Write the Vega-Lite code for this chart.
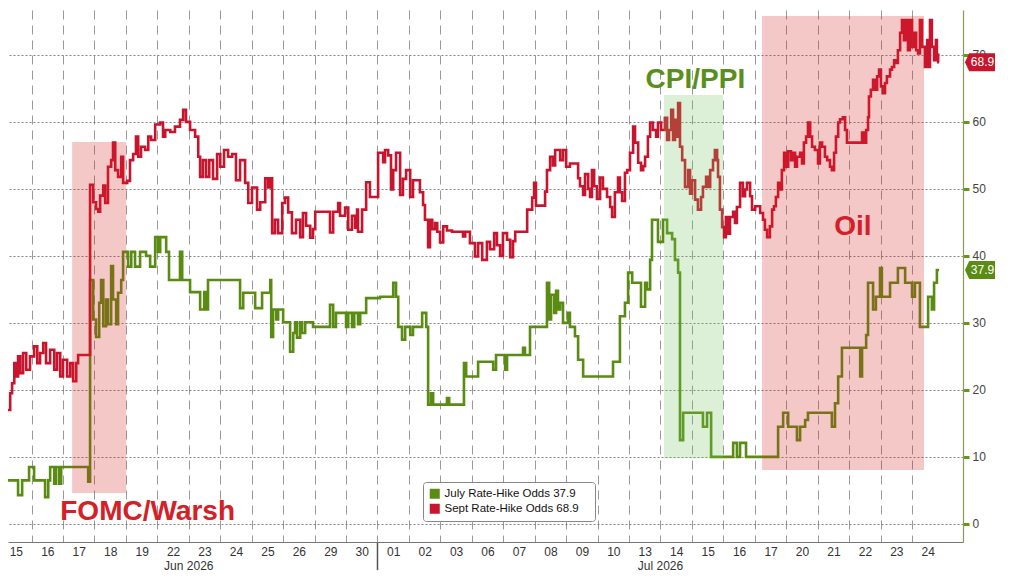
{
  "$schema": "https://vega.github.io/schema/vega-lite/v6.json",
  "width": 955,
  "height": 532,
  "autosize": "none",
  "padding": {"left": 8, "top": 10, "right": 61, "bottom": 39},
  "background": "white",
  "config": {
    "view": {"stroke": null},
    "axisY": {"grid": true, "gridDash": [2, 2], "gridColor": "#666666", "gridOpacity": 0.8,
      "domainColor": "#8a9a5b", "domainWidth": 1.2,
      "tickColor": "#5f9a1c", "tickSize": 6, "tickWidth": 3,
      "labelColor": "#444444", "labelFontSize": 12, "labelFont": "Liberation Sans", "labelPadding": 3}
  },
  "datasets": {
    "odds": [
      {"series":"July","day":0.25,"odds":6.5},{"series":"July","day":0.57,"odds":4.3},{"series":"July","day":0.70,"odds":6.5},{"series":"July","day":0.92,"odds":8.5},{"series":"July","day":1.08,"odds":6.5},{"series":"July","day":1.43,"odds":4.0},{"series":"July","day":1.53,"odds":6.5},{"series":"July","day":1.59,"odds":8.5},{"series":"July","day":1.72,"odds":6.0},{"series":"July","day":1.78,"odds":8.5},{"series":"July","day":1.88,"odds":6.0},{"series":"July","day":1.94,"odds":8.5},{"series":"July","day":2.80,"odds":6.3},{"series":"July","day":2.86,"odds":36.4},{"series":"July","day":2.96,"odds":30.5},{"series":"July","day":3.05,"odds":27.9},{"series":"July","day":3.15,"odds":33},{"series":"July","day":3.21,"odds":36.4},{"series":"July","day":3.28,"odds":29.5},{"series":"July","day":3.37,"odds":33.5},{"series":"July","day":3.43,"odds":29.8},{"series":"July","day":3.53,"odds":38.5},{"series":"July","day":3.59,"odds":33.5},{"series":"July","day":3.69,"odds":29.8},{"series":"July","day":3.75,"odds":34.5},{"series":"July","day":3.85,"odds":36.4},{"series":"July","day":3.91,"odds":40.6},{"series":"July","day":4.07,"odds":38.4},{"series":"July","day":4.17,"odds":40.6},{"series":"July","day":4.29,"odds":38.4},{"series":"July","day":4.45,"odds":40.6},{"series":"July","day":4.64,"odds":40.0},{"series":"July","day":4.77,"odds":38.4},{"series":"July","day":4.93,"odds":42.8},{"series":"July","day":5.02,"odds":40.6},{"series":"July","day":5.09,"odds":42.8},{"series":"July","day":5.28,"odds":40.6},{"series":"July","day":5.37,"odds":36.4},{"series":"July","day":5.72,"odds":40.6},{"series":"July","day":5.79,"odds":36.4},{"series":"July","day":6.04,"odds":34.6},{"series":"July","day":6.36,"odds":32.0},{"series":"July","day":6.49,"odds":34.6},{"series":"July","day":6.55,"odds":32.0},{"series":"July","day":6.61,"odds":36.4},{"series":"July","day":7.63,"odds":32.2},{"series":"July","day":7.73,"odds":34.5},{"series":"July","day":8.11,"odds":32.2},{"series":"July","day":8.33,"odds":34.5},{"series":"July","day":8.59,"odds":36.4},{"series":"July","day":8.62,"odds":27.9},{"series":"July","day":8.68,"odds":32},{"series":"July","day":8.78,"odds":30.5},{"series":"July","day":8.84,"odds":32},{"series":"July","day":9.00,"odds":30.1},{"series":"July","day":9.22,"odds":25.7},{"series":"July","day":9.32,"odds":28.5},{"series":"July","day":9.38,"odds":30.1},{"series":"July","day":9.44,"odds":27.8},{"series":"July","day":9.54,"odds":30.1},{"series":"July","day":9.60,"odds":28.5},{"series":"July","day":9.70,"odds":30.1},{"series":"July","day":9.95,"odds":29.4},{"series":"July","day":10.49,"odds":32.7},{"series":"July","day":10.59,"odds":29.4},{"series":"July","day":10.68,"odds":31.5},{"series":"July","day":11.00,"odds":29.4},{"series":"July","day":11.07,"odds":31.5},{"series":"July","day":11.19,"odds":29.4},{"series":"July","day":11.26,"odds":31.5},{"series":"July","day":11.38,"odds":29.8},{"series":"July","day":11.45,"odds":31.5},{"series":"July","day":11.64,"odds":33.7},{"series":"July","day":12.08,"odds":33.9},{"series":"July","day":12.50,"odds":36.0},{"series":"July","day":12.59,"odds":33.9},{"series":"July","day":12.66,"odds":29.4},{"series":"July","day":12.78,"odds":27.5},{"series":"July","day":12.88,"odds":29.4},{"series":"July","day":13.04,"odds":28.2},{"series":"July","day":13.13,"odds":29.4},{"series":"July","day":13.42,"odds":31.5},{"series":"July","day":13.55,"odds":29.4},{"series":"July","day":13.61,"odds":17.8},{"series":"July","day":13.70,"odds":19.5},{"series":"July","day":13.77,"odds":17.8},{"series":"July","day":14.21,"odds":18.8},{"series":"July","day":14.28,"odds":17.8},{"series":"July","day":14.75,"odds":24.0},{"series":"July","day":14.82,"odds":22.0},{"series":"July","day":15.20,"odds":24.2},{"series":"July","day":15.68,"odds":23.0},{"series":"July","day":15.77,"odds":25.2},{"series":"July","day":16.06,"odds":23.0},{"series":"July","day":16.12,"odds":25.2},{"series":"July","day":16.63,"odds":26.3},{"series":"July","day":16.69,"odds":25.2},{"series":"July","day":16.85,"odds":29.4},{"series":"July","day":17.39,"odds":36.0},{"series":"July","day":17.46,"odds":30.5},{"series":"July","day":17.52,"odds":34.2},{"series":"July","day":17.62,"odds":31.5},{"series":"July","day":17.68,"odds":34.8},{"series":"July","day":17.74,"odds":32},{"series":"July","day":17.81,"odds":33},{"series":"July","day":17.90,"odds":30.0},{"series":"July","day":18.06,"odds":31.5},{"series":"July","day":18.12,"odds":29.4},{"series":"July","day":18.28,"odds":28.0},{"series":"July","day":18.38,"odds":24.5},{"series":"July","day":18.54,"odds":22.0},{"series":"July","day":19.49,"odds":24.2},{"series":"July","day":19.71,"odds":31.0},{"series":"July","day":19.87,"odds":33.0},{"series":"July","day":19.97,"odds":37.5},{"series":"July","day":20.10,"odds":36.0},{"series":"July","day":20.38,"odds":32.4},{"series":"July","day":20.51,"odds":36.0},{"series":"July","day":20.57,"odds":35.0},{"series":"July","day":20.67,"odds":39.4},{"series":"July","day":20.73,"odds":45.4},{"series":"July","day":20.92,"odds":42.1},{"series":"July","day":21.08,"odds":45.4},{"series":"July","day":21.21,"odds":43.4},{"series":"July","day":21.37,"odds":42.5},{"series":"July","day":21.46,"odds":39.4},{"series":"July","day":21.56,"odds":37.5},{"series":"July","day":21.62,"odds":12.5},{"series":"July","day":21.72,"odds":16.6},{"series":"July","day":22.35,"odds":14.5},{"series":"July","day":22.48,"odds":16.6},{"series":"July","day":22.61,"odds":10},{"series":"July","day":23.31,"odds":12.1},{"series":"July","day":23.43,"odds":10},{"series":"July","day":23.53,"odds":12.1},{"series":"July","day":23.72,"odds":10},{"series":"July","day":24.74,"odds":14.5},{"series":"July","day":24.90,"odds":16.6},{"series":"July","day":25.06,"odds":14.5},{"series":"July","day":25.34,"odds":12.5},{"series":"July","day":25.44,"odds":14.5},{"series":"July","day":25.60,"odds":15.5},{"series":"July","day":25.69,"odds":16.6},{"series":"July","day":26.45,"odds":14.5},{"series":"July","day":26.55,"odds":18},{"series":"July","day":26.65,"odds":22.0},{"series":"July","day":26.77,"odds":26.3},{"series":"July","day":27.35,"odds":22.0},{"series":"July","day":27.41,"odds":26.3},{"series":"July","day":27.54,"odds":28.2},{"series":"July","day":27.60,"odds":36.0},{"series":"July","day":27.76,"odds":32.0},{"series":"July","day":27.85,"odds":33.9},{"series":"July","day":27.98,"odds":38.2},{"series":"July","day":28.04,"odds":33.9},{"series":"July","day":28.30,"odds":36.0},{"series":"July","day":28.55,"odds":38.2},{"series":"July","day":28.78,"odds":36.0},{"series":"July","day":29.00,"odds":33.9},{"series":"July","day":29.09,"odds":36.0},{"series":"July","day":29.25,"odds":29.4},{"series":"July","day":29.51,"odds":33.9},{"series":"July","day":29.63,"odds":32.0},{"series":"July","day":29.70,"odds":36.0},{"series":"July","day":29.79,"odds":37.9},{"series":"July","day":29.86,"odds":37.9},
      {"series":"Sept","day":0.25,"odds":17},{"series":"Sept","day":0.32,"odds":19.5},{"series":"Sept","day":0.38,"odds":21},{"series":"Sept","day":0.45,"odds":24},{"series":"Sept","day":0.51,"odds":22},{"series":"Sept","day":0.57,"odds":25},{"series":"Sept","day":0.64,"odds":22.5},{"series":"Sept","day":0.73,"odds":25.5},{"series":"Sept","day":0.83,"odds":23},{"series":"Sept","day":0.95,"odds":25},{"series":"Sept","day":1.08,"odds":26.5},{"series":"Sept","day":1.18,"odds":24},{"series":"Sept","day":1.27,"odds":25.5},{"series":"Sept","day":1.37,"odds":27},{"series":"Sept","day":1.46,"odds":24},{"series":"Sept","day":1.59,"odds":26},{"series":"Sept","day":1.72,"odds":23},{"series":"Sept","day":1.81,"odds":25.5},{"series":"Sept","day":1.91,"odds":22},{"series":"Sept","day":2.00,"odds":24.5},{"series":"Sept","day":2.13,"odds":22},{"series":"Sept","day":2.23,"odds":24},{"series":"Sept","day":2.32,"odds":21.3},{"series":"Sept","day":2.42,"odds":24},{"series":"Sept","day":2.48,"odds":25.2},{"series":"Sept","day":2.86,"odds":50.6},{"series":"Sept","day":2.96,"odds":48},{"series":"Sept","day":3.05,"odds":47},{"series":"Sept","day":3.12,"odds":46.6},{"series":"Sept","day":3.18,"odds":49},{"series":"Sept","day":3.28,"odds":50.5},{"series":"Sept","day":3.34,"odds":47.9},{"series":"Sept","day":3.43,"odds":53.3},{"series":"Sept","day":3.53,"odds":54.3},{"series":"Sept","day":3.59,"odds":56.9},{"series":"Sept","day":3.66,"odds":52.8},{"series":"Sept","day":3.75,"odds":51.8},{"series":"Sept","day":3.85,"odds":54.8},{"series":"Sept","day":3.91,"odds":50.9},{"series":"Sept","day":4.04,"odds":51.2},{"series":"Sept","day":4.13,"odds":54.3},{"series":"Sept","day":4.23,"odds":55.2},{"series":"Sept","day":4.32,"odds":57.8},{"series":"Sept","day":4.39,"odds":54.8},{"series":"Sept","day":4.48,"odds":56.3},{"series":"Sept","day":4.61,"odds":55.8},{"series":"Sept","day":4.71,"odds":57.8},{"series":"Sept","day":4.80,"odds":57.3},{"series":"Sept","day":4.93,"odds":59.6},{"series":"Sept","day":5.09,"odds":59.9},{"series":"Sept","day":5.18,"odds":57.8},{"series":"Sept","day":5.25,"odds":58.8},{"series":"Sept","day":5.41,"odds":58.5},{"series":"Sept","day":5.56,"odds":59.3},{"series":"Sept","day":5.72,"odds":60.3},{"series":"Sept","day":5.82,"odds":61.8},{"series":"Sept","day":5.91,"odds":60},{"series":"Sept","day":6.04,"odds":58.8},{"series":"Sept","day":6.20,"odds":57.8},{"series":"Sept","day":6.30,"odds":54.8},{"series":"Sept","day":6.36,"odds":51.8},{"series":"Sept","day":6.45,"odds":54.3},{"series":"Sept","day":6.55,"odds":51.8},{"series":"Sept","day":6.65,"odds":54.3},{"series":"Sept","day":6.77,"odds":51.5},{"series":"Sept","day":6.90,"odds":55.2},{"series":"Sept","day":7.00,"odds":53.3},{"series":"Sept","day":7.12,"odds":55.8},{"series":"Sept","day":7.25,"odds":54.8},{"series":"Sept","day":7.38,"odds":55.2},{"series":"Sept","day":7.50,"odds":51.3},{"series":"Sept","day":7.63,"odds":54.3},{"series":"Sept","day":7.79,"odds":50.9},{"series":"Sept","day":7.89,"odds":47.9},{"series":"Sept","day":8.01,"odds":50.2},{"series":"Sept","day":8.17,"odds":46.9},{"series":"Sept","day":8.27,"odds":48},{"series":"Sept","day":8.43,"odds":51.6},{"series":"Sept","day":8.52,"odds":50.2},{"series":"Sept","day":8.59,"odds":51.6},{"series":"Sept","day":8.65,"odds":43.4},{"series":"Sept","day":8.74,"odds":45.4},{"series":"Sept","day":8.84,"odds":43.4},{"series":"Sept","day":8.97,"odds":47.9},{"series":"Sept","day":9.06,"odds":48.7},{"series":"Sept","day":9.16,"odds":46.5},{"series":"Sept","day":9.28,"odds":43.4},{"series":"Sept","day":9.41,"odds":45.4},{"series":"Sept","day":9.54,"odds":42.8},{"series":"Sept","day":9.63,"odds":46.4},{"series":"Sept","day":9.73,"odds":44.5},{"series":"Sept","day":9.86,"odds":42.7},{"series":"Sept","day":9.95,"odds":44},{"series":"Sept","day":10.02,"odds":46.6},{"series":"Sept","day":10.49,"odds":43.5},{"series":"Sept","day":10.59,"odds":46.6},{"series":"Sept","day":10.75,"odds":47.9},{"series":"Sept","day":10.81,"odds":46},{"series":"Sept","day":10.97,"odds":47.2},{"series":"Sept","day":11.07,"odds":43.9},{"series":"Sept","day":11.19,"odds":46},{"series":"Sept","day":11.29,"odds":44.2},{"series":"Sept","day":11.35,"odds":46.9},{"series":"Sept","day":11.38,"odds":43.6},{"series":"Sept","day":11.51,"odds":46.9},{"series":"Sept","day":11.64,"odds":51},{"series":"Sept","day":11.76,"odds":48.8},{"series":"Sept","day":12.02,"odds":55.4},{"series":"Sept","day":12.18,"odds":54},{"series":"Sept","day":12.24,"odds":55.8},{"series":"Sept","day":12.34,"odds":55},{"series":"Sept","day":12.43,"odds":49.9},{"series":"Sept","day":12.50,"odds":52.8},{"series":"Sept","day":12.59,"odds":55.4},{"series":"Sept","day":12.72,"odds":49.1},{"series":"Sept","day":12.81,"odds":51.5},{"series":"Sept","day":12.91,"odds":52.8},{"series":"Sept","day":13.04,"odds":48.8},{"series":"Sept","day":13.13,"odds":51.3},{"series":"Sept","day":13.35,"odds":49.5},{"series":"Sept","day":13.45,"odds":47.6},{"series":"Sept","day":13.51,"odds":45.4},{"series":"Sept","day":13.61,"odds":41.3},{"series":"Sept","day":13.67,"odds":45.4},{"series":"Sept","day":13.74,"odds":44},{"series":"Sept","day":13.83,"odds":44.9},{"series":"Sept","day":13.90,"odds":43.6},{"series":"Sept","day":13.99,"odds":42},{"series":"Sept","day":14.09,"odds":44.4},{"series":"Sept","day":14.21,"odds":43.8},{"series":"Sept","day":14.37,"odds":43.6},{"series":"Sept","day":14.72,"odds":42.9},{"series":"Sept","day":14.79,"odds":43.6},{"series":"Sept","day":14.94,"odds":41.9},{"series":"Sept","day":15.10,"odds":39.9},{"series":"Sept","day":15.20,"odds":41.9},{"series":"Sept","day":15.33,"odds":39.4},{"series":"Sept","day":15.48,"odds":42.1},{"series":"Sept","day":15.58,"odds":41},{"series":"Sept","day":15.71,"odds":43.4},{"series":"Sept","day":15.80,"odds":41.6},{"series":"Sept","day":15.90,"odds":40},{"series":"Sept","day":15.99,"odds":43.4},{"series":"Sept","day":16.12,"odds":42.4},{"series":"Sept","day":16.22,"odds":39.8},{"series":"Sept","day":16.31,"odds":42.2},{"series":"Sept","day":16.38,"odds":43.6},{"series":"Sept","day":16.76,"odds":46.9},{"series":"Sept","day":16.92,"odds":48.7},{"series":"Sept","day":16.98,"odds":50.9},{"series":"Sept","day":17.04,"odds":47.5},{"series":"Sept","day":17.33,"odds":49.6},{"series":"Sept","day":17.39,"odds":52.8},{"series":"Sept","day":17.49,"odds":54.8},{"series":"Sept","day":17.58,"odds":53.5},{"series":"Sept","day":17.65,"odds":55.8},{"series":"Sept","day":17.81,"odds":54.3},{"series":"Sept","day":17.90,"odds":55.8},{"series":"Sept","day":18.00,"odds":53.3},{"series":"Sept","day":18.12,"odds":53.8},{"series":"Sept","day":18.38,"odds":51.6},{"series":"Sept","day":18.44,"odds":50.4},{"series":"Sept","day":18.54,"odds":49.1},{"series":"Sept","day":18.60,"odds":52.2},{"series":"Sept","day":18.70,"odds":50},{"series":"Sept","day":18.76,"odds":48.8},{"series":"Sept","day":18.82,"odds":52.8},{"series":"Sept","day":18.89,"odds":50.4},{"series":"Sept","day":18.98,"odds":48.5},{"series":"Sept","day":19.08,"odds":51.7},{"series":"Sept","day":19.17,"odds":50},{"series":"Sept","day":19.30,"odds":48.8},{"series":"Sept","day":19.40,"odds":47.3},{"series":"Sept","day":19.46,"odds":45.8},{"series":"Sept","day":19.55,"odds":49.5},{"series":"Sept","day":19.65,"odds":51.7},{"series":"Sept","day":19.71,"odds":49.5},{"series":"Sept","day":19.78,"odds":48.2},{"series":"Sept","day":19.87,"odds":52.4},{"series":"Sept","day":19.94,"odds":52.8},{"series":"Sept","day":20.03,"odds":55.4},{"series":"Sept","day":20.13,"odds":59.3},{"series":"Sept","day":20.19,"odds":56.9},{"series":"Sept","day":20.29,"odds":53.9},{"series":"Sept","day":20.38,"odds":52.8},{"series":"Sept","day":20.45,"odds":53.4},{"series":"Sept","day":20.51,"odds":54.8},{"series":"Sept","day":20.60,"odds":57.8},{"series":"Sept","day":20.67,"odds":59.9},{"series":"Sept","day":20.76,"odds":58.8},{"series":"Sept","day":20.86,"odds":57.8},{"series":"Sept","day":20.92,"odds":59.9},{"series":"Sept","day":21.02,"odds":58.8},{"series":"Sept","day":21.14,"odds":60.6},{"series":"Sept","day":21.21,"odds":57.3},{"series":"Sept","day":21.27,"odds":58.8},{"series":"Sept","day":21.34,"odds":61.8},{"series":"Sept","day":21.40,"odds":57.3},{"series":"Sept","day":21.46,"odds":60.3},{"series":"Sept","day":21.53,"odds":57.8},{"series":"Sept","day":21.56,"odds":62.8},{"series":"Sept","day":21.62,"odds":56.3},{"series":"Sept","day":21.69,"odds":54.3},{"series":"Sept","day":21.78,"odds":50.3},{"series":"Sept","day":21.88,"odds":52.8},{"series":"Sept","day":21.94,"odds":49.3},{"series":"Sept","day":22.00,"odds":51.3},{"series":"Sept","day":22.10,"odds":48.4},{"series":"Sept","day":22.19,"odds":46.9},{"series":"Sept","day":22.29,"odds":48.8},{"series":"Sept","day":22.35,"odds":50.3},{"series":"Sept","day":22.45,"odds":51.8},{"series":"Sept","day":22.51,"odds":50.3},{"series":"Sept","day":22.58,"odds":52.8},{"series":"Sept","day":22.67,"odds":54.3},{"series":"Sept","day":22.73,"odds":55.8},{"series":"Sept","day":22.80,"odds":54.3},{"series":"Sept","day":22.83,"odds":51.8},{"series":"Sept","day":22.89,"odds":46.9},{"series":"Sept","day":22.96,"odds":44.3},{"series":"Sept","day":23.02,"odds":42.8},{"series":"Sept","day":23.08,"odds":45.8},{"series":"Sept","day":23.15,"odds":43.3},{"series":"Sept","day":23.21,"odds":45.8},{"series":"Sept","day":23.31,"odds":46.6},{"series":"Sept","day":23.37,"odds":44.9},{"series":"Sept","day":23.43,"odds":47.3},{"series":"Sept","day":23.53,"odds":50.9},{"series":"Sept","day":23.62,"odds":48.9},{"series":"Sept","day":23.69,"odds":49.9},{"series":"Sept","day":23.75,"odds":50.9},{"series":"Sept","day":23.85,"odds":48.9},{"series":"Sept","day":23.91,"odds":46.9},{"series":"Sept","day":24.01,"odds":47.4},{"series":"Sept","day":24.17,"odds":46.4},{"series":"Sept","day":24.26,"odds":45.4},{"series":"Sept","day":24.32,"odds":43.9},{"series":"Sept","day":24.39,"odds":42.8},{"series":"Sept","day":24.48,"odds":44.4},{"series":"Sept","day":24.55,"odds":46.9},{"series":"Sept","day":24.61,"odds":47.4},{"series":"Sept","day":24.67,"odds":48.8},{"series":"Sept","day":24.74,"odds":50.9},{"series":"Sept","day":24.80,"odds":49.9},{"series":"Sept","day":24.86,"odds":52.8},{"series":"Sept","day":24.93,"odds":55.4},{"series":"Sept","day":24.99,"odds":53.3},{"series":"Sept","day":25.06,"odds":55.6},{"series":"Sept","day":25.15,"odds":54.3},{"series":"Sept","day":25.21,"odds":55.4},{"series":"Sept","day":25.28,"odds":53.3},{"series":"Sept","day":25.34,"odds":54.8},{"series":"Sept","day":25.44,"odds":55.4},{"series":"Sept","day":25.50,"odds":53.8},{"series":"Sept","day":25.56,"odds":56.9},{"series":"Sept","day":25.63,"odds":57.8},{"series":"Sept","day":25.69,"odds":59.9},{"series":"Sept","day":25.76,"odds":57.8},{"series":"Sept","day":25.82,"odds":56.3},{"series":"Sept","day":25.91,"odds":55.8},{"series":"Sept","day":26.01,"odds":53.8},{"series":"Sept","day":26.07,"odds":56.9},{"series":"Sept","day":26.14,"odds":56.3},{"series":"Sept","day":26.23,"odds":54.8},{"series":"Sept","day":26.30,"odds":54.3},{"series":"Sept","day":26.39,"odds":53.3},{"series":"Sept","day":26.45,"odds":52.8},{"series":"Sept","day":26.52,"odds":55.4},{"series":"Sept","day":26.58,"odds":57.8},{"series":"Sept","day":26.65,"odds":59.9},{"series":"Sept","day":26.71,"odds":60.4},{"series":"Sept","day":26.80,"odds":60.7},{"series":"Sept","day":26.87,"odds":58.8},{"series":"Sept","day":26.93,"odds":56.9},{"series":"Sept","day":27.41,"odds":58.4},{"series":"Sept","day":27.47,"odds":56.9},{"series":"Sept","day":27.54,"odds":58.8},{"series":"Sept","day":27.60,"odds":60.7},{"series":"Sept","day":27.63,"odds":63.8},{"series":"Sept","day":27.69,"odds":64.8},{"series":"Sept","day":27.76,"odds":66.3},{"series":"Sept","day":27.82,"odds":64.8},{"series":"Sept","day":27.89,"odds":66.8},{"series":"Sept","day":27.95,"odds":67.8},{"series":"Sept","day":28.01,"odds":65.3},{"series":"Sept","day":28.08,"odds":64.3},{"series":"Sept","day":28.14,"odds":65.8},{"series":"Sept","day":28.20,"odds":66.8},{"series":"Sept","day":28.30,"odds":67.8},{"series":"Sept","day":28.36,"odds":68.2},{"series":"Sept","day":28.43,"odds":69.2},{"series":"Sept","day":28.49,"odds":68.8},{"series":"Sept","day":28.55,"odds":70.7},{"series":"Sept","day":28.62,"odds":73.3},{"series":"Sept","day":28.68,"odds":75.2},{"series":"Sept","day":28.74,"odds":72.2},{"series":"Sept","day":28.81,"odds":75.2},{"series":"Sept","day":28.87,"odds":70.7},{"series":"Sept","day":28.93,"odds":75.2},{"series":"Sept","day":29.00,"odds":71.2},{"series":"Sept","day":29.06,"odds":73.3},{"series":"Sept","day":29.13,"odds":70.7},{"series":"Sept","day":29.19,"odds":70.2},{"series":"Sept","day":29.25,"odds":75.2},{"series":"Sept","day":29.32,"odds":71.2},{"series":"Sept","day":29.41,"odds":68.2},{"series":"Sept","day":29.48,"odds":72.2},{"series":"Sept","day":29.51,"odds":68.2},{"series":"Sept","day":29.57,"odds":75.2},{"series":"Sept","day":29.63,"odds":71.2},{"series":"Sept","day":29.70,"odds":69.2},{"series":"Sept","day":29.76,"odds":72.2},{"series":"Sept","day":29.79,"odds":70},{"series":"Sept","day":29.83,"odds":68.9},{"series":"Sept","day":29.86,"odds":68.9}
    ],
    "events": [
      {"event":"FOMC/Warsh","start":2.29,"end":4.01,"low":4.6,"high":57.0},
      {"event":"CPI/PPI","start":21.11,"end":22.99,"low":9.8,"high":64.0},
      {"event":"Oil","start":24.23,"end":29.38,"low":8.06,"high":75.8}
    ],
    "labels": [
      {"event":"FOMC/Warsh","day":4.69,"odds":0.6},
      {"event":"CPI/PPI","day":22.11,"odds":65.1},
      {"event":"Oil","day":27.12,"odds":43.1}
    ],
    "latest": [
      {"series":"July","odds":37.9},
      {"series":"Sept","odds":68.9}
    ],
    "months": [
      {"month":"Jun 2026","day":6.0},
      {"month":"Jul 2026","day":21.0}
    ]
  },
  "resolve": {"axis": {"x": "independent"}},
  "layer": [
    {
      "data": {"name": "odds"},
      "mark": {"type": "line", "interpolate": "step-after", "strokeWidth": 2.6},
      "encoding": {
        "x": {"field": "day", "type": "quantitative",
          "scale": {"domain": [0.25, 30.62], "nice": false, "zero": false},
          "axis": {"orient": "bottom", "title": null, "values": [1,2,3,4,5,6,7,8,9,10,11,12,13,14,15,16,17,18,19,20,21,22,23,24,25,26,27,28,29],
            "grid": true, "gridDash": [9, 6], "gridColor": "#999999", "gridWidth": 1,
            "ticks": false, "labels": false, "domain": true, "domainColor": "#777777", "domainWidth": 1}},
        "y": {"field": "odds", "type": "quantitative",
          "scale": {"domain": [-2.7, 76.7], "nice": false, "zero": false},
          "axis": {"orient": "right", "title": null, "values": [0,10,20,30,40,50,60,70]}},
        "color": {"field": "series", "type": "nominal",
          "scale": {"domain": ["July", "Sept"], "range": ["#5a8c14", "#c8142d"]},
          "legend": {"orient": "none", "legendX": 415, "legendY": 472, "title": null,
            "symbolType": "square", "symbolSize": 100, "symbolStrokeWidth": 0,
            "labelFontSize": 11.5, "labelFont": "Liberation Sans", "labelColor": "#111111",
            "fillColor": "white", "strokeColor": "#888888", "cornerRadius": 3, "padding": 6,
            "rowPadding": 2, "labelOffset": 4,
            "labelExpr": "datum.label === 'July' ? 'July Rate-Hike Odds    37.9' : 'Sept Rate-Hike Odds    68.9'",
            "encode": {"symbols": {"update": {"fill": {"scale": "color", "field": "value"}, "fillOpacity": {"value": 1}}}}}}
      }
    },
    {
      "data": {"name": "events"},
      "mark": {"type": "rect", "opacity": 0.25},
      "encoding": {
        "x": {"field": "start", "type": "quantitative", "axis": null},
        "x2": {"field": "end"},
        "y": {"field": "low", "type": "quantitative", "axis": {"orient": "right", "title": null, "values": [0,10,20,30,40,50,60,70]}},
        "y2": {"field": "high"},
        "color": {"condition": {"test": "datum.event === 'CPI/PPI'", "value": "#73c35f"}, "value": "#d72323"}
      }
    },
    {
      "data": {"name": "labels"},
      "mark": {"type": "text", "font": "Liberation Sans", "fontWeight": "bold", "fontSize": 28, "align": "center", "baseline": "alphabetic"},
      "encoding": {
        "x": {"field": "day", "type": "quantitative", "axis": null},
        "y": {"field": "odds", "type": "quantitative", "axis": {"orient": "right", "title": null, "values": [0,10,20,30,40,50,60,70]}},
        "text": {"field": "event"},
        "color": {"condition": {"test": "datum.event === 'CPI/PPI'", "value": "#5b8f1b"}, "value": "#d42027"}
      }
    },
    {
      "data": {"name": "latest"},
      "mark": {"type": "point", "shape": "M-1,0L-0.72,-0.6L1,-0.6L1,0.6L-0.72,0.6Z", "size": 900, "filled": true, "opacity": 1},
      "encoding": {
        "x": {"datum": 31.16, "type": "quantitative", "axis": null},
        "y": {"field": "odds", "type": "quantitative", "axis": {"orient": "right", "title": null, "values": [0,10,20,30,40,50,60,70]}},
        "color": {"field": "series", "type": "nominal", "legend": null}
      }
    },
    {
      "data": {"name": "latest"},
      "mark": {"type": "text", "font": "Liberation Sans", "fontSize": 12, "color": "white", "align": "center", "baseline": "middle"},
      "encoding": {
        "x": {"datum": 31.24, "type": "quantitative", "axis": null},
        "y": {"field": "odds", "type": "quantitative", "axis": {"orient": "right", "title": null, "values": [0,10,20,30,40,50,60,70]}},
        "text": {"field": "odds", "format": ".1f"}
      }
    },
    {
      "data": {"name": "months"},
      "mark": {"type": "text", "font": "Liberation Sans", "fontSize": 12, "color": "#333333", "align": "center", "baseline": "alphabetic"},
      "encoding": {
        "x": {"field": "day", "type": "quantitative",
          "axis": {"orient": "bottom", "title": null,
            "values": [0.5,1.5,2.5,3.5,4.5,5.5,6.5,7.5,8.5,9.5,10.5,11.5,12.5,13.5,14.5,15.5,16.5,17.5,18.5,19.5,20.5,21.5,22.5,23.5,24.5,25.5,26.5,27.5,28.5,29.5],
            "grid": false, "ticks": false, "tickSize": 0, "domain": false, "labelPadding": 4,
            "labelFontSize": 12, "labelColor": "#333333", "labelFont": "Liberation Sans Narrow, Liberation Sans",
            "labelOverlap": false, "labelFlush": false,
            "labelExpr": "['15','16','17','18','19','22','23','24','25','26','29','30','01','02','03','06','07','08','09','10','13','14','15','16','17','20','21','22','23','24'][floor(datum.value)]"}},
        "y": {"datum": -6.95, "type": "quantitative", "axis": {"orient": "right", "title": null, "values": [0,10,20,30,40,50,60,70]}},
        "text": {"field": "month"}
      }
    },
    {
      "data": {"values": [{}]},
      "mark": {"type": "rule", "color": "#555555", "strokeWidth": 1.5},
      "encoding": {
        "x": {"datum": 12, "type": "quantitative", "axis": null},
        "y": {"datum": -2.8, "type": "quantitative", "axis": {"orient": "right", "title": null, "values": [0,10,20,30,40,50,60,70]}},
        "y2": {"datum": -6.9}
      }
    }
  ]
}
